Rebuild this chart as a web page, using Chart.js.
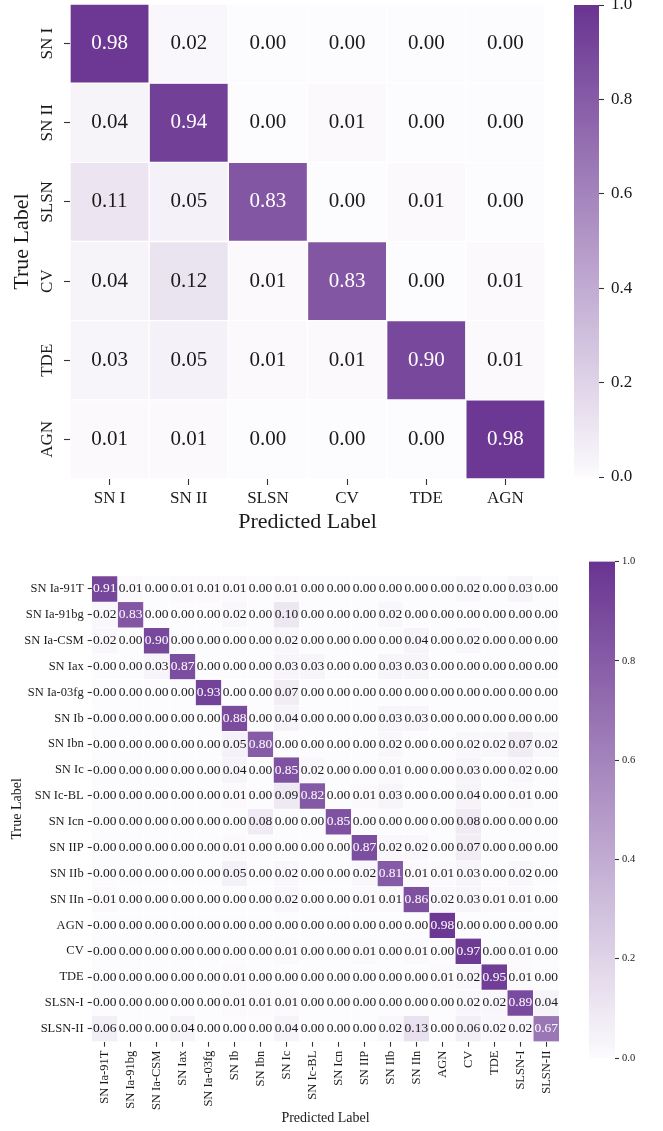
<!DOCTYPE html>
<html><head><meta charset="utf-8">
<script src="https://cdn.jsdelivr.net/npm/chart.js@4.4.1/dist/chart.umd.min.js"></script>
<style>
html,body{margin:0;padding:0;background:#fff;}
#wrap{position:relative;width:663px;height:1131px;overflow:hidden;background:#fff;}
canvas{position:absolute;}
</style></head><body>
<div id="wrap">
<canvas id="topHeat" width="560" height="540" style="left:0;top:0;width:560px;height:540px"></canvas>
<canvas id="topBar" width="123" height="540" style="left:540px;top:0;width:123px;height:540px"></canvas>
<canvas id="fineHeat" width="580" height="591" style="left:0;top:540px;width:580px;height:591px"></canvas>
<canvas id="fineBar" width="123" height="591" style="left:540px;top:540px;width:123px;height:591px"></canvas>
</div>
<script>
const FONT = "'Liberation Serif','Times New Roman',serif";

// ---------- data ----------
const coarseClasses = ['SN I', 'SN II', 'SLSN', 'CV', 'TDE', 'AGN'];
const coarseMatrix = [
  [0.98, 0.02, 0.00, 0.00, 0.00, 0.00],
  [0.04, 0.94, 0.00, 0.01, 0.00, 0.00],
  [0.11, 0.05, 0.83, 0.00, 0.01, 0.00],
  [0.04, 0.12, 0.01, 0.83, 0.00, 0.01],
  [0.03, 0.05, 0.01, 0.01, 0.90, 0.01],
  [0.01, 0.01, 0.00, 0.00, 0.00, 0.98]
];

const fineClasses = ['SN Ia-91T', 'SN Ia-91bg', 'SN Ia-CSM', 'SN Iax', 'SN Ia-03fg', 'SN Ib', 'SN Ibn',
  'SN Ic', 'SN Ic-BL', 'SN Icn', 'SN IIP', 'SN IIb', 'SN IIn', 'AGN', 'CV', 'TDE', 'SLSN-I', 'SLSN-II'];
const fineMatrix = [
  [0.91,0.01,0.00,0.01,0.01,0.01,0.00,0.01,0.00,0.00,0.00,0.00,0.00,0.00,0.02,0.00,0.03,0.00],
  [0.02,0.83,0.00,0.00,0.00,0.02,0.00,0.10,0.00,0.00,0.00,0.02,0.00,0.00,0.00,0.00,0.00,0.00],
  [0.02,0.00,0.90,0.00,0.00,0.00,0.00,0.02,0.00,0.00,0.00,0.00,0.04,0.00,0.02,0.00,0.00,0.00],
  [0.00,0.00,0.03,0.87,0.00,0.00,0.00,0.03,0.03,0.00,0.00,0.03,0.03,0.00,0.00,0.00,0.00,0.00],
  [0.00,0.00,0.00,0.00,0.93,0.00,0.00,0.07,0.00,0.00,0.00,0.00,0.00,0.00,0.00,0.00,0.00,0.00],
  [0.00,0.00,0.00,0.00,0.00,0.88,0.00,0.04,0.00,0.00,0.00,0.03,0.03,0.00,0.00,0.00,0.00,0.00],
  [0.00,0.00,0.00,0.00,0.00,0.05,0.80,0.00,0.00,0.00,0.00,0.02,0.00,0.00,0.02,0.02,0.07,0.02],
  [0.00,0.00,0.00,0.00,0.00,0.04,0.00,0.85,0.02,0.00,0.00,0.01,0.00,0.00,0.03,0.00,0.02,0.00],
  [0.00,0.00,0.00,0.00,0.00,0.01,0.00,0.09,0.82,0.00,0.01,0.03,0.00,0.00,0.04,0.00,0.01,0.00],
  [0.00,0.00,0.00,0.00,0.00,0.00,0.08,0.00,0.00,0.85,0.00,0.00,0.00,0.00,0.08,0.00,0.00,0.00],
  [0.00,0.00,0.00,0.00,0.00,0.01,0.00,0.00,0.00,0.00,0.87,0.02,0.02,0.00,0.07,0.00,0.00,0.00],
  [0.00,0.00,0.00,0.00,0.00,0.05,0.00,0.02,0.00,0.00,0.02,0.81,0.01,0.01,0.03,0.00,0.02,0.00],
  [0.01,0.00,0.00,0.00,0.00,0.00,0.00,0.02,0.00,0.00,0.01,0.01,0.86,0.02,0.03,0.01,0.01,0.00],
  [0.00,0.00,0.00,0.00,0.00,0.00,0.00,0.00,0.00,0.00,0.00,0.00,0.00,0.98,0.00,0.00,0.00,0.00],
  [0.00,0.00,0.00,0.00,0.00,0.00,0.00,0.01,0.00,0.00,0.01,0.00,0.01,0.00,0.97,0.00,0.01,0.00],
  [0.00,0.00,0.00,0.00,0.00,0.01,0.00,0.00,0.00,0.00,0.00,0.00,0.00,0.01,0.02,0.95,0.01,0.00],
  [0.00,0.00,0.00,0.00,0.00,0.01,0.01,0.01,0.00,0.00,0.00,0.00,0.00,0.00,0.02,0.02,0.89,0.04],
  [0.06,0.00,0.00,0.04,0.00,0.00,0.00,0.04,0.00,0.00,0.00,0.02,0.13,0.00,0.06,0.02,0.02,0.67]
];

const colorbarTicks = [0.0, 0.2, 0.4, 0.6, 0.8, 1.0];

// ---------- colour map ----------
const LOW = [252, 251, 253], HIGH = [105, 52, 145];
function cmap(v) {
  const t = Math.max(0, Math.min(1, v));
  const c = LOW.map((l, i) => Math.round(l + (HIGH[i] - l) * t));
  return `rgb(${c[0]},${c[1]},${c[2]})`;
}

const cellText = {
  id: 'cellText',
  afterDatasetsDraw(chart, args, opts) {
    const ctx = chart.ctx;
    ctx.save();
    ctx.font = `${opts.size}px ${FONT}`;
    ctx.textAlign = 'center';
    ctx.textBaseline = 'middle';
    chart.data.datasets.forEach((ds, i) => {
      const meta = chart.getDatasetMeta(i);
      meta.data.forEach((el, j) => {
        const v = ds.data[j].v;
        const p = el.getProps(['x', 'y', 'base'], true);
        ctx.fillStyle = v > 0.5 ? '#ffffff' : '#1a1a1a';
        ctx.fillText(v.toFixed(2), p.x, (p.y + p.base) / 2 + (opts.dy || 0));
      });
    });
    ctx.restore();
  }
};

function heatmap(id, rows, cols, matrix, L) {
  const datasets = rows.map((r, ri) => ({
    label: r,
    data: cols.map((c, ci) => ({ x: c, y: [ri - 0.5, ri + 0.5], v: matrix[ri][ci] })),
    backgroundColor: matrix[ri].map(cmap),
    borderColor: '#ffffff',
    borderWidth: L.border,
    borderSkipped: false,
    barPercentage: 1,
    categoryPercentage: 1,
    grouped: false
  }));
  return new Chart(document.getElementById(id), {
    type: 'bar',
    data: { labels: cols, datasets },
    plugins: [cellText],
    options: {
      responsive: false, animation: false, devicePixelRatio: 1,
      layout: { padding: { left: 0, top: L.top, right: L.right, bottom: 0 } },
      plugins: { legend: { display: false }, tooltip: { enabled: false }, cellText: { size: L.cellSize, dy: L.cellDy } },
      scales: {
        x: {
          type: 'category', offset: true,
          grid: { display: true, drawOnChartArea: false, drawTicks: true, tickLength: L.xtl, tickWidth: 1.1, tickColor: '#333', offset: false },
          border: { display: false },
          ticks: { font: { family: FONT, size: L.tickSize }, color: '#1a1a1a', padding: L.xpad,
                   minRotation: L.xrot, maxRotation: L.xrot, autoSkip: false },
          title: { display: true, text: 'Predicted Label', color: '#1a1a1a',
                   font: { family: FONT, size: L.titleSize }, padding: { top: 0, bottom: L.xtpad } },
          afterFit: s => { s.height = L.xh; s.paddingLeft = 0; s.paddingRight = 0; }
        },
        y: {
          type: 'linear', reverse: true, min: -0.5, max: rows.length - 0.5,
          afterBuildTicks: s => { s.ticks = rows.map((_, i) => ({ value: i })); },
          grid: { display: true, drawOnChartArea: false, drawTicks: true, tickLength: L.ytl, tickWidth: 1.1, tickColor: '#333' },
          border: { display: false },
          ticks: { callback: v => rows[v], font: { family: FONT, size: L.tickSize }, color: '#1a1a1a',
                   padding: L.ypad, minRotation: L.yrot, maxRotation: L.yrot, crossAlign: L.yCross, autoSkip: false },
          title: { display: true, text: 'True Label', color: '#1a1a1a',
                   font: { family: FONT, size: L.titleSize }, padding: { top: L.ytpad, bottom: 0 } },
          afterFit: s => { s.width = L.yw; s.paddingTop = 0; s.paddingBottom = 0; }
        }
      }
    }
  });
}

function colorbar(id, L) {
  return new Chart(document.getElementById(id), {
    type: 'bar',
    data: {
      labels: [''],
      datasets: [{
        data: [[0, 1]],
        backgroundColor: ctx => {
          const ch = ctx.chart, a = ch.chartArea;
          if (!a) return cmap(0.5);
          const g = ch.ctx.createLinearGradient(0, a.bottom, 0, a.top);
          g.addColorStop(0, cmap(0));
          g.addColorStop(1, cmap(1));
          return g;
        },
        borderWidth: 0, barPercentage: 1, categoryPercentage: 1
      }]
    },
    options: {
      responsive: false, animation: false, devicePixelRatio: 1,
      layout: { padding: { left: L.left, top: L.top, right: 0, bottom: L.bottom } },
      plugins: { legend: { display: false }, tooltip: { enabled: false } },
      scales: {
        x: { display: false },
        y: {
          position: 'right', min: 0, max: 1,
          afterBuildTicks: s => { s.ticks = colorbarTicks.map(v => ({ value: v })); },
          grid: { display: true, drawOnChartArea: false, drawTicks: true, tickLength: L.tl, tickWidth: 1.1, tickColor: '#333' },
          border: { display: false },
          ticks: { callback: v => v.toFixed(1), font: { family: FONT, size: L.size }, color: '#1a1a1a', padding: L.pad },
          afterFit: s => { s.width = L.w; s.paddingTop = 0; s.paddingBottom = 0; }
        }
      }
    }
  });
}

// top (coarse) confusion matrix
heatmap('topHeat', coarseClasses, coarseClasses, coarseMatrix, {
  border: 1, top: 4, right: 15, yw: 70, xh: 61,
  cellSize: 21, cellDy: 0, tickSize: 17, titleSize: 22,
  xtl: 6, xpad: 3, xrot: 0, xtpad: 4.8,
  ytl: 6, ypad: -4, yrot: 90, yCross: 'center', ytpad: 8.8
});
colorbar('topBar', { left: 34, top: 5, bottom: 63, w: 64, tl: 5, pad: 7, size: 17 });

// bottom (fine) confusion matrix
heatmap('fineHeat', fineClasses, fineClasses, fineMatrix, {
  border: 0.5, top: 36, right: 20.7, yw: 91.7, xh: 89.3,
  cellSize: 13.5, cellDy: 0, tickSize: 12.5, titleSize: 14,
  xtl: 5, xpad: 4, xrot: 90, xtpad: 4.5,
  ytl: 4, ypad: 4, yrot: 0, yCross: 'near', ytpad: 8.5
});
colorbar('fineBar', { left: 49, top: 21.5, bottom: 73, w: 48, tl: 4, pad: 3, size: 10.5 });
</script>
</body></html>
